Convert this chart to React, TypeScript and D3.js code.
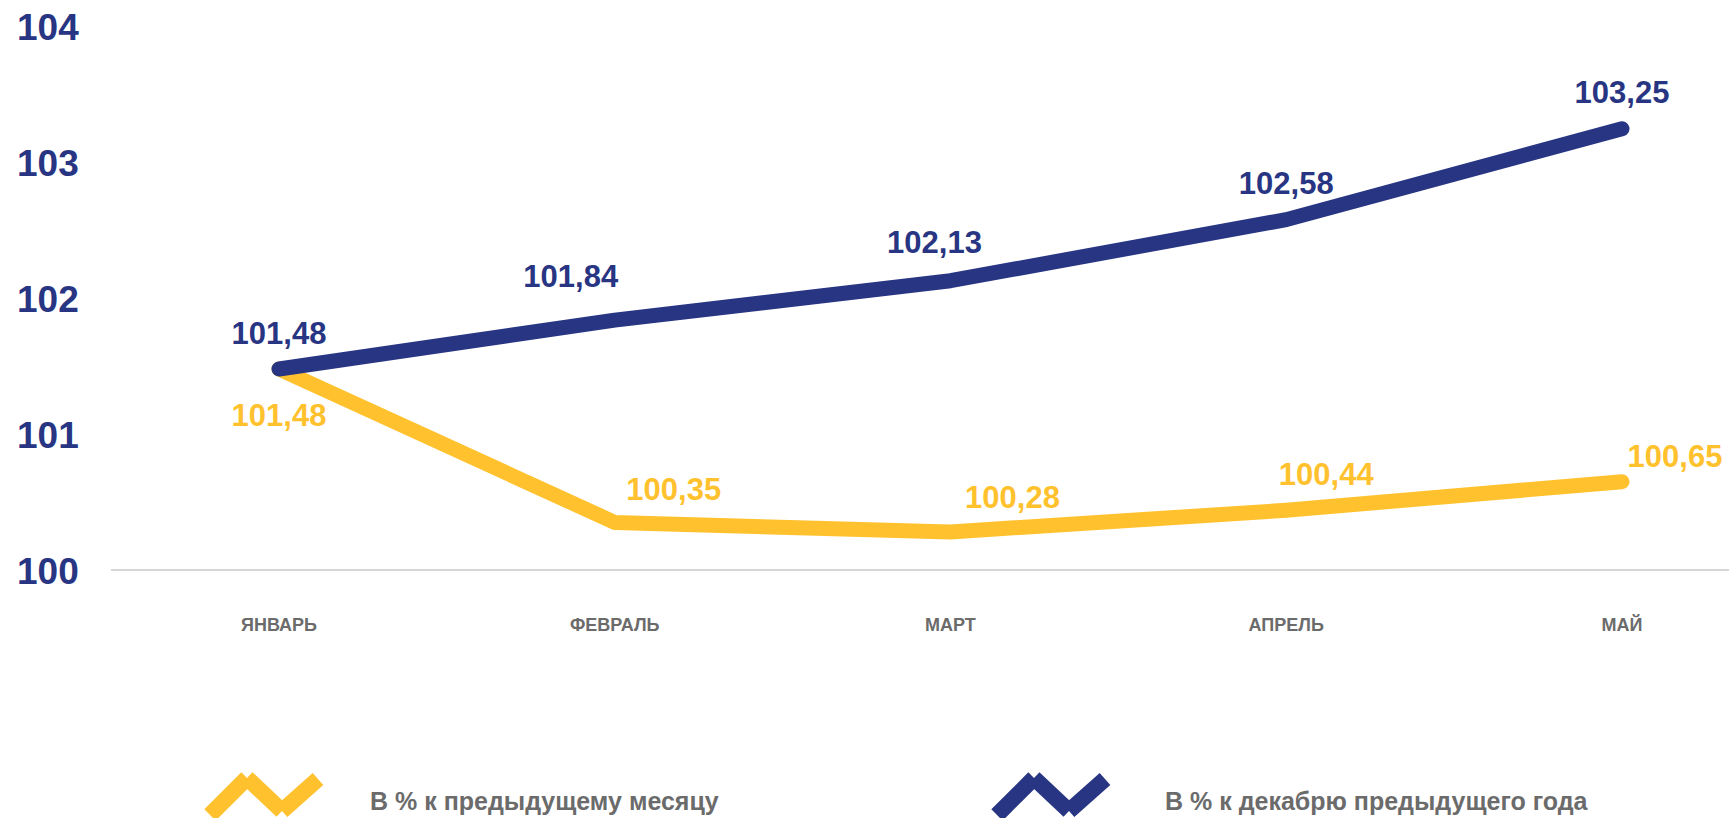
import * as d3 from "d3";

const WIDTH = 1729;
const HEIGHT = 818;

const months = ["ЯНВАРЬ", "ФЕВРАЛЬ", "МАРТ", "АПРЕЛЬ", "МАЙ"];
const prevMonth = [101.48, 100.35, 100.28, 100.44, 100.65];
const prevDecember = [101.48, 101.84, 102.13, 102.58, 103.25];
const yTicks = [100, 101, 102, 103, 104];
const seriesNames = ["В % к предыдущему месяцу", "В % к декабрю предыдущего года"];

const BLUE = "#283583";
const YELLOW = "#ffc22e";
const GREY = "#6b6b6b";
const FONT = "'Liberation Sans', Arial, sans-serif";

// label nudges (dx, dy from the point to the text baseline)
const yellowLabelOffsets = [
  [0, 57],
  [59, -22],
  [62, -24],
  [40, -25],
  [53, -15],
];
const blueLabelOffsets = [
  [0, -25],
  [-44, -33],
  [-16, -28],
  [0, -26],
  [0, -26],
];

// legend zigzag icon, relative to its left end
const ICON = [
  [0, 0],
  [37, -37],
  [72, -4],
  [108, -36],
];

const fmt = (v: number) => v.toFixed(2).replace(".", ",");

export default function App() {
  const xScale = d3.scalePoint<string>().domain(months).range([279, 1622]);
  const yScale = d3.scaleLinear().domain([100, 104]).range([570, 26.8]);

  const line = d3
    .line<number>()
    .x((_, i) => xScale(months[i]) as number)
    .y((d) => yScale(d))
    .curve(d3.curveLinear);

  const series = [
    { values: prevMonth, color: YELLOW, offsets: yellowLabelOffsets },
    { values: prevDecember, color: BLUE, offsets: blueLabelOffsets },
  ];

  const legend = [
    { name: seriesNames[0], color: YELLOW, x: 210, textX: 370 },
    { name: seriesNames[1], color: BLUE, x: 997, textX: 1165 },
  ];

  return (
    <svg
      width={WIDTH}
      height={HEIGHT}
      style={{ position: "absolute", left: 0, top: 0, display: "block", background: "#fff" }}
      fontFamily={FONT}
    >
      {/* y tick labels */}
      {yTicks.map((t) => (
        <text
          key={t}
          x={17}
          y={yScale(t) + 13.5}
          fontSize={37}
          fontWeight="bold"
          fill={BLUE}
        >
          {t}
        </text>
      ))}

      {/* baseline */}
      <line x1={111} x2={WIDTH} y1={yScale(100)} y2={yScale(100)} stroke="#c9c9c9" strokeWidth={1.5} />

      {/* month labels */}
      {months.map((m) => (
        <text
          key={m}
          x={xScale(m)}
          y={631}
          textAnchor="middle"
          fontSize={18}
          fontWeight="bold"
          fill={GREY}
        >
          {m}
        </text>
      ))}

      {/* lines */}
      {series.map((s, si) => (
        <path
          key={si}
          d={line(s.values) || ""}
          fill="none"
          stroke={s.color}
          strokeWidth={15}
          strokeLinecap="round"
          strokeLinejoin="round"
        />
      ))}

      {/* data labels */}
      {series.map((s, si) =>
        s.values.map((v, i) => (
          <text
            key={`${si}-${i}`}
            x={(xScale(months[i]) as number) + s.offsets[i][0]}
            y={yScale(v) + s.offsets[i][1]}
            textAnchor="middle"
            fontSize={31}
            fontWeight="bold"
            fill={s.color}
          >
            {fmt(v)}
          </text>
        ))
      )}

      {/* legend */}
      {legend.map((l, li) => (
        <g key={li}>
          {ICON.slice(1).map((p, i) => (
            <line
              key={i}
              x1={l.x + ICON[i][0]}
              y1={815 + ICON[i][1]}
              x2={l.x + p[0]}
              y2={815 + p[1]}
              stroke={l.color}
              strokeWidth={16}
              strokeLinecap="butt"
            />
          ))}
          <text x={l.textX} y={810} fontSize={25} fontWeight="bold" fill={GREY}>
            {l.name}
          </text>
        </g>
      ))}
    </svg>
  );
}
